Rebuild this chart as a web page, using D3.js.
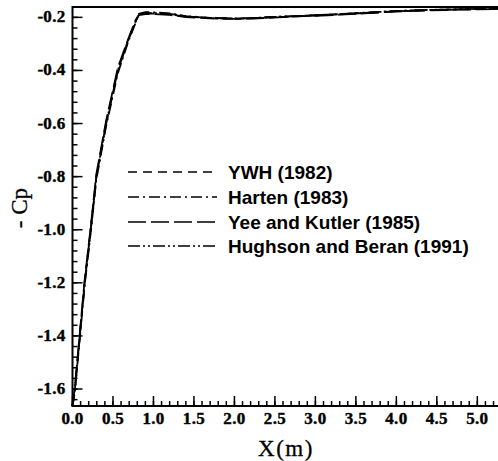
<!DOCTYPE html>
<html>
<head>
<meta charset="utf-8">
<script src="https://cdn.jsdelivr.net/npm/d3@7"></script>
<style>
body { margin: 0; background: #fff; }
svg { display: block; }
</style>
</head>
<body>
<div id="chart"></div>
<script>
const xValues = [0, 0.03, 0.09, 0.15, 0.225, 0.295, 0.415, 0.56, 0.69, 0.78, 0.82, 0.90, 1.00, 1.20, 1.40, 1.70, 2.00, 2.20, 2.60, 3.00, 3.30, 3.60, 4.00, 4.40, 4.80, 5.28];
const ywh = [-1.664, -1.60, -1.40, -1.20, -1.00, -0.80, -0.60, -0.40, -0.285, -0.215, -0.190, -0.186, -0.186, -0.189, -0.197, -0.203, -0.205, -0.204, -0.198, -0.193, -0.189, -0.184, -0.177, -0.173, -0.170, -0.168];
const harten = [-1.664, -1.61, -1.41, -1.21, -1.01, -0.81, -0.61, -0.41, -0.29, -0.22, -0.186, -0.180, -0.181, -0.185, -0.195, -0.202, -0.205, -0.203, -0.197, -0.192, -0.188, -0.182, -0.176, -0.172, -0.169, -0.167];
const yeeKutler = [-1.664, -1.59, -1.39, -1.19, -0.99, -0.79, -0.59, -0.39, -0.28, -0.21, -0.192, -0.188, -0.188, -0.191, -0.199, -0.204, -0.206, -0.205, -0.199, -0.194, -0.190, -0.185, -0.178, -0.174, -0.171, -0.169];
const hughsonBeran = [-1.664, -1.60, -1.40, -1.20, -1.00, -0.80, -0.60, -0.40, -0.285, -0.215, -0.189, -0.183, -0.184, -0.187, -0.196, -0.202, -0.204, -0.203, -0.197, -0.192, -0.188, -0.183, -0.176, -0.172, -0.169, -0.167];

const seriesNames = ["YWH (1982)", "Harten (1983)", "Yee and Kutler (1985)", "Hughson and Beran (1991)"];
const seriesValues = [ywh, harten, yeeKutler, hughsonBeran];
const dashes = ["9,6", "11,4,2,4", "18,5", "12,3,2,3,2,3"];

const xTicks = [0, 0.5, 1.0, 1.5, 2.0, 2.5, 3.0, 3.5, 4.0, 4.5, 5.0];
const yTicks = [-0.2, -0.4, -0.6, -0.8, -1.0, -1.2, -1.4, -1.6];

const width = 498, height = 461;
const plotLeft = 72.5, plotRight = 500, plotTop = 7, plotBottom = 406;
const serif = '"Liberation Serif", "Times New Roman", serif';
const sans = '"Liberation Sans", Arial, sans-serif';

const svg = d3.select("#chart").append("svg")
    .attr("width", width)
    .attr("height", height);

const x = d3.scaleLinear().domain([0, 5.28]).range([plotLeft, plotRight]);
const y = d3.scaleLinear().domain([-1.664, -0.161]).range([plotBottom, plotTop]);

// frame
svg.append("rect")
    .attr("x", plotLeft).attr("y", plotTop)
    .attr("width", plotRight - plotLeft).attr("height", plotBottom - plotTop)
    .attr("fill", "none").attr("stroke", "#000").attr("stroke-width", 2);

// minor + major ticks, pointing inward
const xMinor = d3.range(0, 5.3, 0.1);
svg.selectAll(".xminor").data(xMinor).enter().append("line")
    .attr("x1", d => x(d)).attr("x2", d => x(d))
    .attr("y1", plotBottom).attr("y2", plotBottom - 5)
    .attr("stroke", "#000").attr("stroke-width", 1.5);
svg.selectAll(".xmajor").data(xTicks).enter().append("line")
    .attr("x1", d => x(d)).attr("x2", d => x(d))
    .attr("y1", plotBottom).attr("y2", plotBottom - 10)
    .attr("stroke", "#000").attr("stroke-width", 1.5);

const yMinor = d3.range(-1.64, -0.16, 0.04);
svg.selectAll(".yminor").data(yMinor).enter().append("line")
    .attr("x1", plotLeft).attr("x2", plotLeft + 5)
    .attr("y1", d => y(d)).attr("y2", d => y(d))
    .attr("stroke", "#000").attr("stroke-width", 1.5);
svg.selectAll(".ymajor").data(yTicks).enter().append("line")
    .attr("x1", plotLeft).attr("x2", plotLeft + 10)
    .attr("y1", d => y(d)).attr("y2", d => y(d))
    .attr("stroke", "#000").attr("stroke-width", 1.5);

// tick labels
svg.selectAll(".xlab").data(xTicks).enter().append("text")
    .attr("x", d => x(d)).attr("y", plotBottom + 18)
    .attr("text-anchor", "middle")
    .style("font-family", serif)
    .style("font-weight", "bold").style("font-size", "17px")
    .attr("letter-spacing", 0.3)
    .attr("stroke", "#000").attr("stroke-width", 0.4)
    .text(d => d.toFixed(1));

svg.selectAll(".ylab").data(yTicks).enter().append("text")
    .attr("x", plotLeft - 7).attr("y", d => y(d) + 5)
    .attr("text-anchor", "end")
    .style("font-family", serif)
    .style("font-weight", "bold").style("font-size", "17px")
    .attr("letter-spacing", 0.3)
    .attr("stroke", "#000").attr("stroke-width", 0.4)
    .text(d => d.toFixed(1));

// axis titles
svg.append("text")
    .attr("x", 286).attr("y", 456)
    .attr("text-anchor", "middle")
    .style("font-family", serif)
    .style("font-size", "23px").attr("letter-spacing", 1.5)
    .attr("stroke", "#000").attr("stroke-width", 0.3)
    .text("X(m)");

svg.append("text")
    .attr("transform", "translate(27,208) rotate(-90)")
    .attr("text-anchor", "middle")
    .style("font-family", serif)
    .style("font-size", "23px")
    .attr("stroke", "#000").attr("stroke-width", 0.3)
    .text("- Cp");

// curves
const line = d3.line()
    .x((d, i) => x(xValues[i]))
    .y(d => y(d));

const g = svg.append("g");
seriesValues.forEach((vals, k) => {
    g.append("path")
        .attr("d", line(vals))
        .attr("fill", "none")
        .attr("stroke", "#000")
        .attr("stroke-width", 1.8)
        .attr("stroke-dasharray", dashes[k]);
});

// legend
const legendY = [172, 197, 222, 246];
seriesNames.forEach((name, k) => {
    svg.append("line")
        .attr("x1", 128).attr("x2", 217)
        .attr("y1", legendY[k]).attr("y2", legendY[k])
        .attr("stroke", "#000").attr("stroke-width", 1.5)
        .attr("stroke-dasharray", dashes[k]);
    svg.append("text")
        .attr("x", 228).attr("y", legendY[k] + 7)
        .style("font-family", sans)
        .style("font-weight", "bold").style("font-size", "19px")
        .text(name);
});
</script>
</body>
</html>
